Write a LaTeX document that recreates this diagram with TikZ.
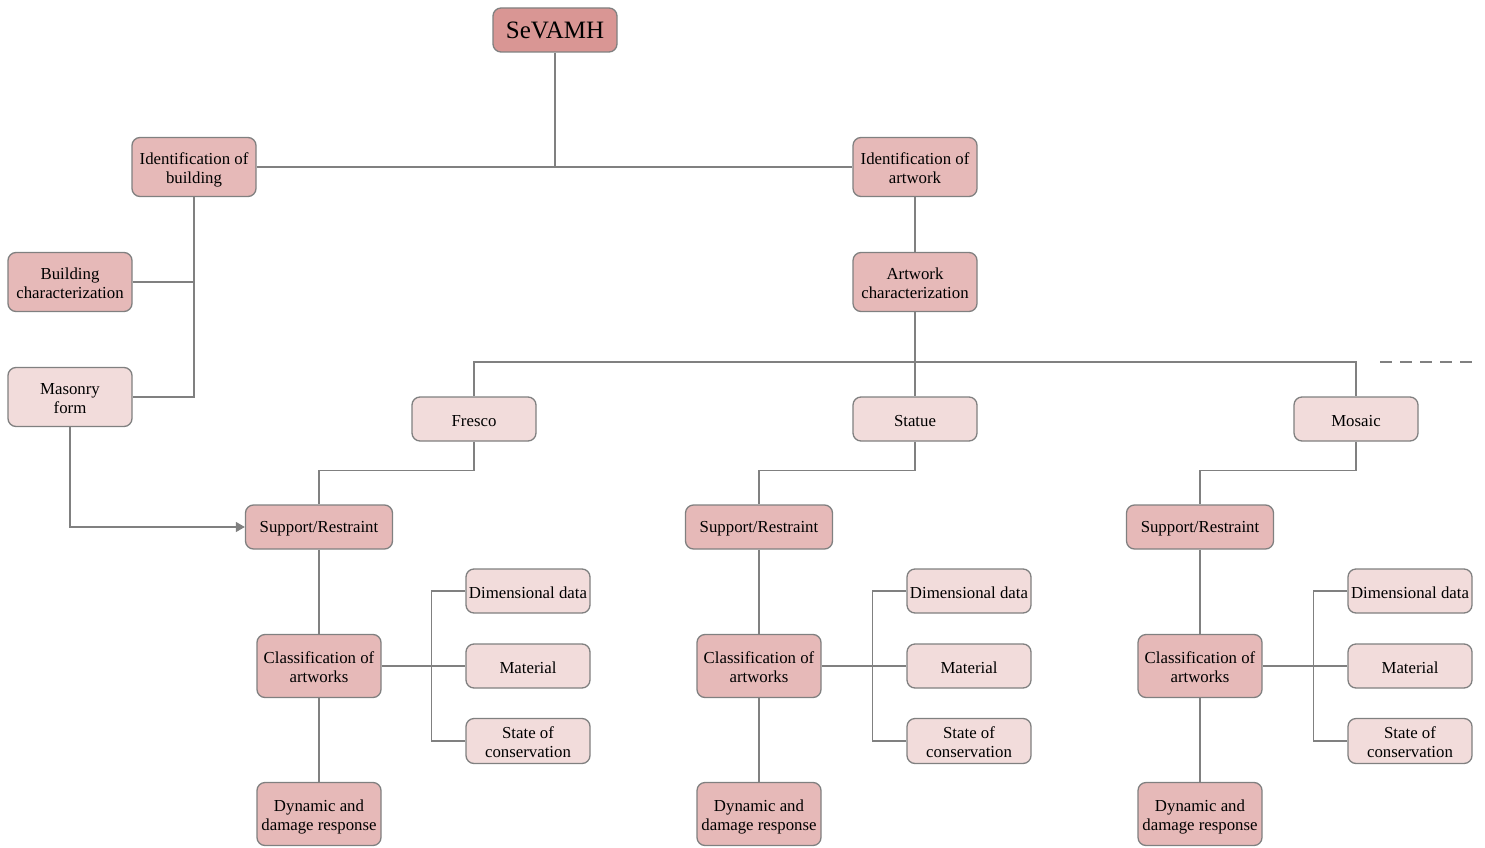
\documentclass[tikz,border=0pt]{standalone}
\usepackage{fontspec}
\setmainfont{Liberation Serif}
\usetikzlibrary{arrows.meta}
\definecolor{cdark}{HTML}{D99694}
\definecolor{cmid}{HTML}{E6B9B8}
\definecolor{clight}{HTML}{F2DCDB}
\definecolor{cline}{HTML}{808080}
\newcommand\twol[2]{\raisebox{-7.5pt}[0pt][0pt]{\begin{tabular}{@{}c@{}}#1\\#2\end{tabular}}}
\begin{document}
\begin{tikzpicture}[x=1pt,y=-1pt,
  box/.style={draw=cline, line width=1.3pt, rounded corners=8pt, inner sep=0pt,
    font=\fontsize{16.8pt}{19pt}\selectfont, text=black},
  oneline/.style={execute at begin node={\rule{0pt}{15.5pt}}},
  bmid/.style={box, fill=cmid},
  blight/.style={box, fill=clight},
  conn/.style={draw=cline, line width=1.3pt}]
\useasboundingbox (0,0) rectangle (1485,848);
% top
\node[box, fill=cdark, minimum width=124pt, minimum height=44pt, font=\fontsize{25pt}{28pt}\selectfont] (root) at (555,30) {SeVAMH};
\node[bmid, minimum width=124pt, minimum height=59pt] (idb) at (194,167) {\twol{Identification of}{building}};
\node[bmid, minimum width=124pt, minimum height=59pt] (ida) at (915,167) {\twol{Identification of}{artwork}};
\node[bmid, minimum width=124pt, minimum height=59pt] (bch) at (70,282) {\twol{Building}{characterization}};
\node[bmid, minimum width=124pt, minimum height=59pt] (ach) at (915,282) {\twol{Artwork}{characterization}};
\node[blight, minimum width=124pt, minimum height=59pt] (mas) at (70,397) {\twol{Masonry}{form}};
\node[blight, oneline, minimum width=124pt, minimum height=44pt] (fre) at (474,419) {Fresco};
\node[blight, oneline, minimum width=124pt, minimum height=44pt] (sta) at (915,419) {Statue};
\node[blight, oneline, minimum width=124pt, minimum height=44pt] (mos) at (1356,419) {Mosaic};
% columns
\foreach \n/\c/\d in {a/319/528, b/759/969, c/1200/1410}{
  \node[bmid, oneline, minimum width=147pt, minimum height=44pt] (sup\n) at (\c,527) {Support/Restraint};
  \node[bmid, minimum width=124pt, minimum height=63pt] (cls\n) at (\c,666) {\twol{Classification of}{artworks}};
  \node[bmid, minimum width=124pt, minimum height=63pt] (dyn\n) at (\c,814) {\twol{Dynamic and}{damage response}};
  \node[blight, oneline, minimum width=124pt, minimum height=44pt] (dim\n) at (\d,591) {Dimensional data};
  \node[blight, oneline, minimum width=124pt, minimum height=44pt] (mat\n) at (\d,666) {Material};
  \node[blight, minimum width=124pt, minimum height=45pt] (soc\n) at (\d,741) {\twol{State of}{conservation}};
  \draw[conn] (sup\n.south) -- (cls\n.north);
  \draw[conn] (cls\n.south) -- (dyn\n.north);
  \draw[conn] (cls\n.east) -- (mat\n.west);
  \draw[conn] (dim\n.west) -| ([xshift=-34pt]dim\n.west |- soc\n.west) -- (soc\n.west);
}
% top connectors
\coordinate (j1) at (555,167);
\draw[conn] (root.south) -- (j1);
\draw[conn] (idb.east) -- (ida.west);
\draw[conn] (idb.south) |- (mas.east);
\draw[conn] (bch.east) -- (idb.south |- bch.east);
\draw[conn] (ida.south) -- (ach.north);
\coordinate (h) at (915,362);
\draw[conn] (ach.south) -- (h);
\draw[conn] (fre.north) |- (h) -| (mos.north);
\draw[conn] (h) -- (sta.north);
\coordinate (dsA) at (1380,362);
\coordinate (dsB) at (1475,362);
\draw[conn, dash pattern=on 12pt off 8pt] (dsA) -- (dsB);
\draw[conn] (fre.south) -- ++(0,29) -| (supa.north);
\draw[conn] (sta.south) -- ++(0,29) -| (supb.north);
\draw[conn] (mos.south) -- ++(0,29) -| (supc.north);
\draw[conn, -{Triangle[length=9pt,width=10pt]}] (mas.south) |- (supa.west);
\end{tikzpicture}
\end{document}
